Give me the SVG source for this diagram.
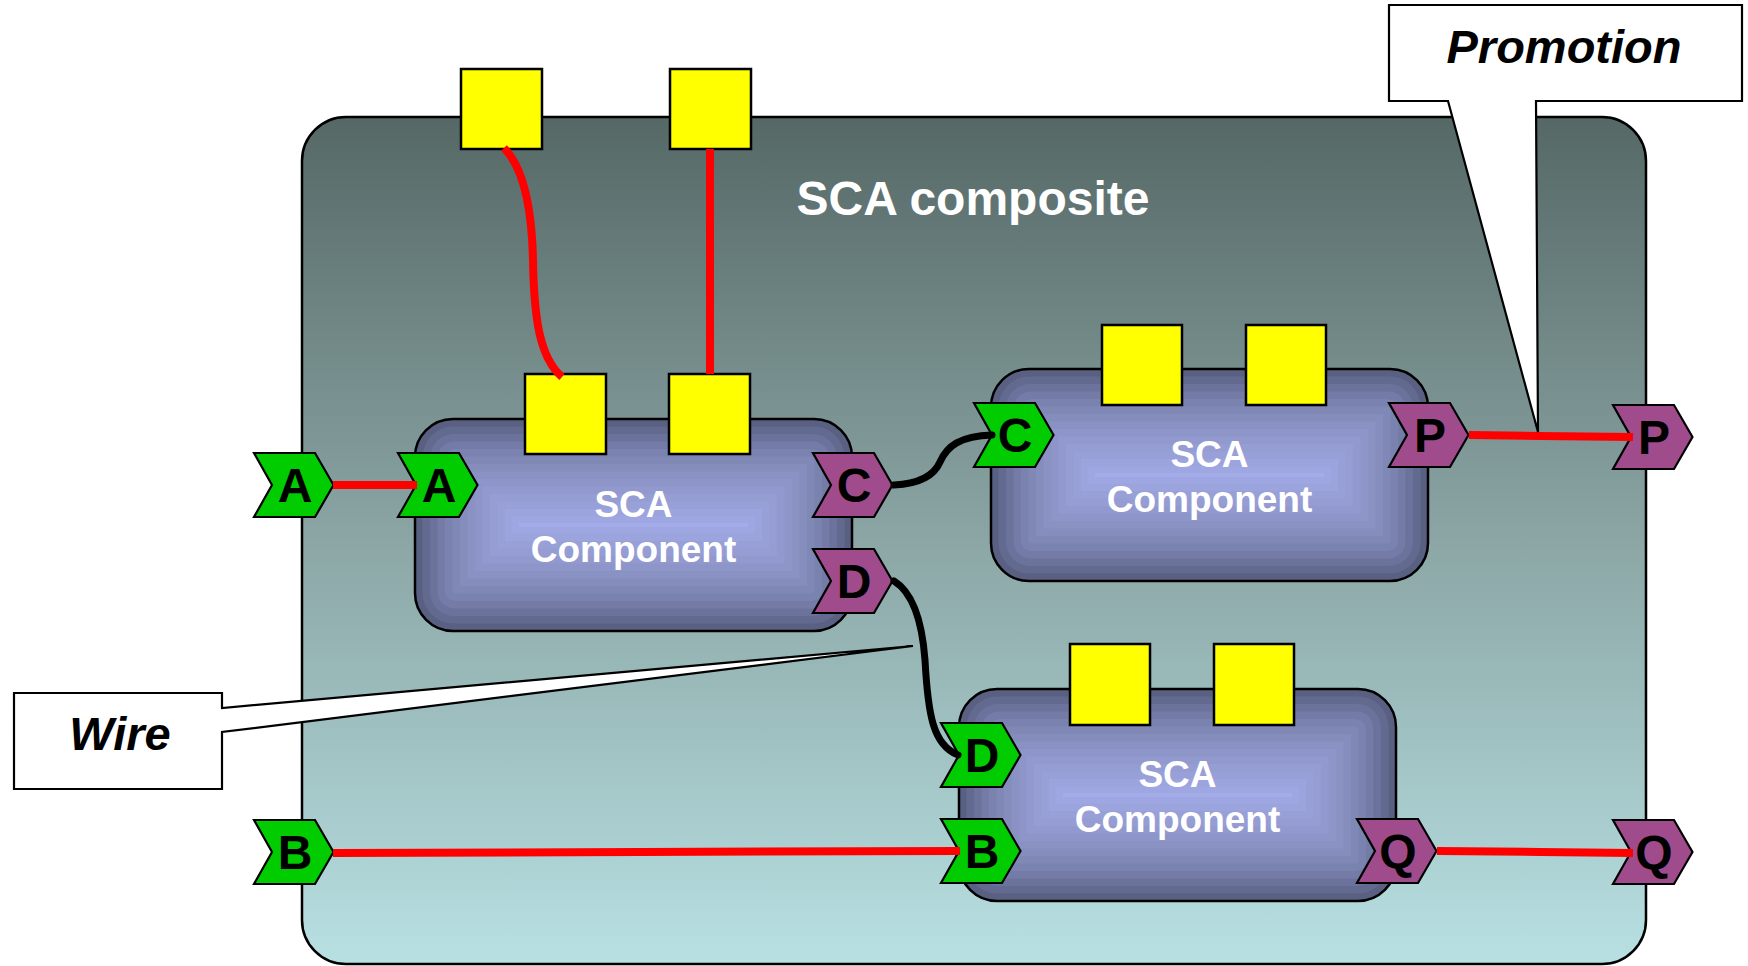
<svg xmlns="http://www.w3.org/2000/svg" xmlns:xlink="http://www.w3.org/1999/xlink" width="1748" height="966" viewBox="0 0 1748 966">
  <style>
    .outline { stroke: #000; stroke-width: 2.5; }
    .prop { fill: #ffff00; stroke: #000; stroke-width: 2.5; }
    .svc { fill: #00cc00; stroke: #000; stroke-width: 2.2; stroke-linejoin: miter; }
    .ref { fill: #a04c8c; stroke: #000; stroke-width: 2.2; stroke-linejoin: miter; }
    .plabel { font-family: "Liberation Sans", Arial, sans-serif; font-weight: bold; font-size: 48px; fill: #000; text-anchor: middle; }
    .clabel { font-family: "Liberation Sans", Arial, sans-serif; font-weight: bold; font-size: 37px; fill: #fff; text-anchor: middle; }
    .title { font-family: "Liberation Sans", Arial, sans-serif; font-weight: bold; font-size: 48px; fill: #fff; text-anchor: middle; }
    .note { font-family: "Liberation Sans", Arial, sans-serif; font-weight: bold; font-style: italic; font-size: 47px; fill: #000; text-anchor: middle; }
    .callout { fill: #fff; stroke: #000; stroke-width: 2.2; stroke-linejoin: miter; }
    .wire-red { fill: none; stroke: #ff0000; stroke-width: 8; }
    .wire-black { fill: none; stroke: #000; stroke-width: 7; stroke-linecap: round; }
  </style>
  <defs>
    <linearGradient id="compositeFill" x1="0" y1="0" x2="0" y2="1">
      <stop offset="0" stop-color="#556866"/>
      <stop offset="0.5" stop-color="#8ba6a5"/>
      <stop offset="1" stop-color="#b8e0e3"/>
    </linearGradient>
    <!-- chevron port outline, 79 x 64 -->
    <path id="chev" d="M0,0 h61 l18.5,32 l-18.5,32 h-61 l18,-32 z"/>
    <!-- component body: banded rectangular shading, 437 x 212 -->
    <g id="body">
      <rect x="0" y="0" width="437" height="212" rx="38" fill="#596082"/>
      <rect x="7.5" y="7.5" width="422" height="197" rx="31" fill="#636a90"/>
      <rect x="15" y="15" width="407" height="182" rx="24" fill="#6b739c"/>
      <rect x="22.5" y="22.5" width="392" height="167" rx="17" fill="#737ba6"/>
      <rect x="30" y="30" width="377" height="152" rx="10" fill="#7a82af"/>
      <rect x="37.5" y="37.5" width="362" height="137" rx="4" fill="#8088b6"/>
      <rect x="45" y="45" width="347" height="122" fill="#858dbd"/>
      <rect x="52.5" y="52.5" width="332" height="107" fill="#8a92c3"/>
      <rect x="60" y="60" width="317" height="92" fill="#8e96c9"/>
      <rect x="67.5" y="67.5" width="302" height="77" fill="#9299ce"/>
      <rect x="75" y="75" width="287" height="62" fill="#959dd3"/>
      <rect x="82.5" y="82.5" width="272" height="47" fill="#98a0d8"/>
      <rect x="90" y="90" width="257" height="32" fill="#9ca4dd"/>
      <rect x="97.5" y="97.5" width="242" height="17" fill="#9fa7e2"/>
      <rect x="104" y="104" width="229" height="4" fill="#a4ace9"/>
    </g>
  </defs>

  <!-- outer composite -->
  <g id="composite">
    <rect x="302" y="117" width="1344" height="847" rx="44" fill="url(#compositeFill)" class="outline"/>
    <text class="title" x="973" y="215">SCA composite</text>
  </g>

  <!-- component 1 -->
  <g id="component1">
    <use xlink:href="#body" x="415" y="419"/>
    <rect x="415" y="419" width="437" height="212" rx="38" fill="none" class="outline"/>
    <rect class="prop" x="525" y="374" width="81" height="80"/>
    <rect class="prop" x="669" y="374" width="81" height="80"/>
    <text class="clabel" x="633.5" y="517">SCA</text>
    <text class="clabel" x="633.5" y="562">Component</text>
    <use xlink:href="#chev" class="svc" x="398" y="453"/>
    <text class="plabel" x="439" y="502">A</text>
    <use xlink:href="#chev" class="ref" x="813" y="453"/>
    <text class="plabel" x="854" y="502">C</text>
    <use xlink:href="#chev" class="ref" x="813" y="549"/>
    <text class="plabel" x="854" y="598">D</text>
  </g>

  <!-- component 2 -->
  <g id="component2">
    <use xlink:href="#body" x="991" y="369"/>
    <rect x="991" y="369" width="437" height="212" rx="38" fill="none" class="outline"/>
    <rect class="prop" x="1102" y="325" width="80" height="80"/>
    <rect class="prop" x="1246" y="325" width="80" height="80"/>
    <text class="clabel" x="1209.5" y="467">SCA</text>
    <text class="clabel" x="1209.5" y="512">Component</text>
    <use xlink:href="#chev" class="svc" x="974" y="403"/>
    <text class="plabel" x="1015" y="452">C</text>
    <use xlink:href="#chev" class="ref" x="1389" y="403"/>
    <text class="plabel" x="1430" y="452">P</text>
  </g>

  <!-- component 3 -->
  <g id="component3">
    <use xlink:href="#body" x="959" y="689"/>
    <rect x="959" y="689" width="437" height="212" rx="38" fill="none" class="outline"/>
    <rect class="prop" x="1070" y="644" width="80" height="81"/>
    <rect class="prop" x="1214" y="644" width="80" height="81"/>
    <text class="clabel" x="1177.5" y="787">SCA</text>
    <text class="clabel" x="1177.5" y="832">Component</text>
    <use xlink:href="#chev" class="svc" x="941" y="723"/>
    <text class="plabel" x="982" y="772">D</text>
    <use xlink:href="#chev" class="svc" x="941" y="819"/>
    <text class="plabel" x="982" y="868">B</text>
    <use xlink:href="#chev" class="ref" x="1357" y="819"/>
    <text class="plabel" x="1398" y="868">Q</text>
  </g>

  <!-- composite-level services, references and properties -->
  <g id="service-A">
    <use xlink:href="#chev" class="svc" x="254" y="453"/>
    <text class="plabel" x="295" y="502">A</text>
  </g>
  <g id="service-B">
    <use xlink:href="#chev" class="svc" x="254" y="820"/>
    <text class="plabel" x="295" y="869">B</text>
  </g>
  <g id="reference-P">
    <use xlink:href="#chev" class="ref" x="1613" y="405"/>
    <text class="plabel" x="1654" y="454">P</text>
  </g>
  <g id="reference-Q">
    <use xlink:href="#chev" class="ref" x="1613" y="820"/>
    <text class="plabel" x="1654" y="869">Q</text>
  </g>
  <g id="property-1">
    <rect class="prop" x="461" y="69" width="81" height="80"/>
  </g>
  <g id="property-2">
    <rect class="prop" x="670" y="69" width="81" height="80"/>
  </g>

  <!-- wires and promotions -->
  <g id="connectors">
    <path class="wire-red" d="M504,148 C526,170 532,215 533,260 C534,320 540,358 562,377"/>
    <path class="wire-red" d="M710,149 V374"/>
    <path class="wire-red" d="M333,485 H417"/>
    <path class="wire-red" d="M333,853 L640,852 L960,851"/>
    <path class="wire-red" d="M1469,435 L1540,436 L1633,437"/>
    <path class="wire-red" d="M1437,851 L1540,852 L1633,853"/>
    <path class="wire-black" d="M894,485 C915,484 933,478 940,462 C947,446 960,436 992,435"/>
    <path class="wire-black" d="M894,581 C912,592 922,620 925,660 C928,715 933,745 958,755"/>
  </g>

  <!-- labels with pointers -->
  <g id="wire-callout">
    <path class="callout" d="M14,693 H222 V708 L913,646 L222,732 V789 H14 Z"/>
    <text class="note" x="120" y="750">Wire</text>
  </g>
  <g id="promotion-callout">
    <path class="callout" d="M1389,5 H1742 V101 H1536 L1538,432 L1448,101 H1389 Z"/>
    <text class="note" x="1564" y="63">Promotion</text>
  </g>
</svg>
